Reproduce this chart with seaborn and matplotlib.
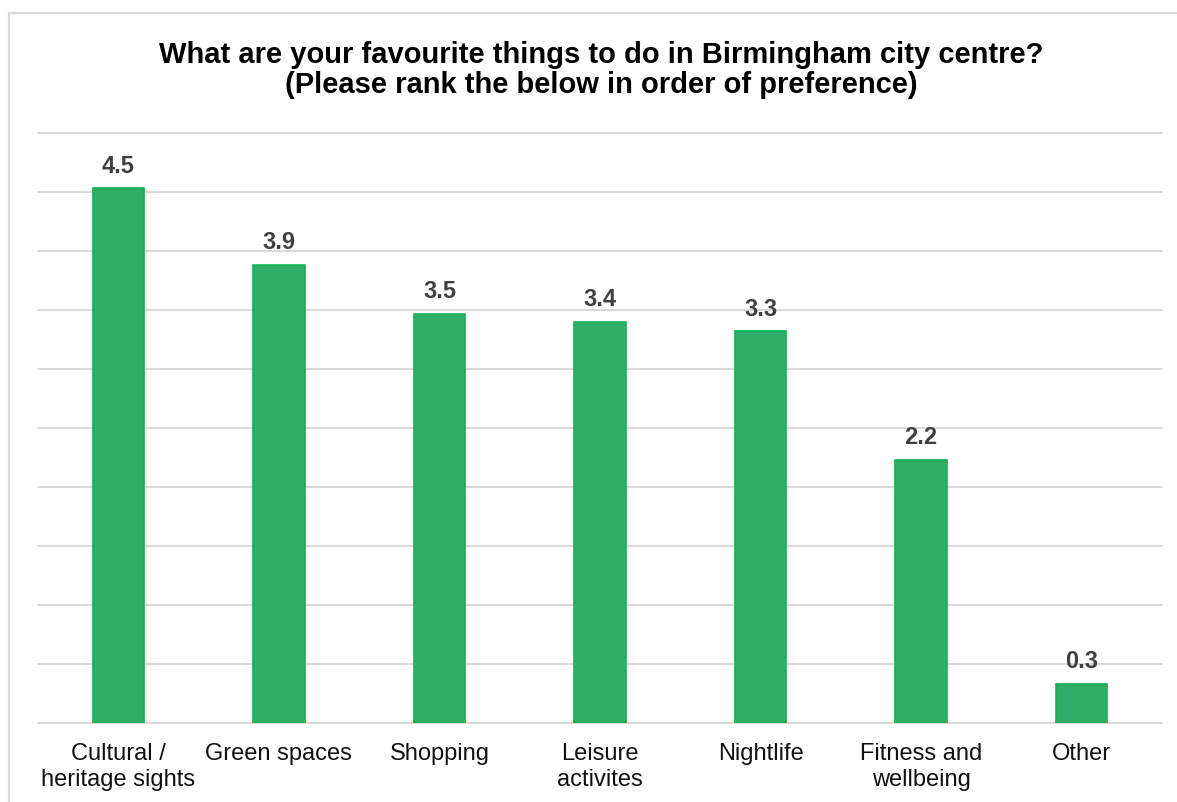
import matplotlib
matplotlib.use("Agg")
import matplotlib.pyplot as plt
import matplotlib.patches as mpatches
import seaborn as sns
import pandas as pd

# Survey results: mean preference score per activity
categories = [
    "Cultural /\nheritage sights",
    "Green spaces",
    "Shopping",
    "Leisure\nactivites",
    "Nightlife",
    "Fitness and\nwellbeing",
    "Other",
]
scores = [4.53, 3.88, 3.47, 3.40, 3.32, 2.23, 0.33]
y_ticks = [0.0, 0.5, 1.0, 1.5, 2.0, 2.5, 3.0, 3.5, 4.0, 4.5, 5.0]

title = ("What are your favourite things to do in Birmingham city centre?\n"
         "(Please rank the below in order of preference)")

sns.set_theme(style="white")
plt.rcParams["font.family"] = ["Liberation Sans", "DejaVu Sans"]

W, H = 1177, 803
fig = plt.figure(figsize=(W / 100, H / 100), dpi=100)
fig.patch.set_facecolor("white")

ax = fig.add_axes([38 / W, (H - 724) / H, (1162 - 38) / W, (724 - 134) / H])

df = pd.DataFrame({"activity": categories, "score": scores})
sns.barplot(data=df, x="activity", y="score", ax=ax, width=0.32,
            color="#2EAE69", saturation=1, edgecolor="#12B356", linewidth=1.2,
            zorder=3)

ax.set_ylim(0, 5.0)
ax.set_xlim(-0.5, len(categories) - 0.5)
ax.set_yticks(y_ticks)
ax.set_yticklabels([])
ax.tick_params(axis="y", length=0)
ax.tick_params(axis="x", length=0, pad=14, labelsize=17, labelcolor="#111111")
for lbl in ax.get_xticklabels():
    lbl.set_linespacing(1.2)
ax.set_xlabel("")
ax.set_ylabel("")
ax.yaxis.grid(True, color="#D9D9D9", linewidth=1.5, zorder=0)
ax.xaxis.grid(False)
for sp in ax.spines.values():
    sp.set_visible(False)
for gl in ax.yaxis.get_gridlines():
    gl.set_clip_on(False)

# value labels above each bar
for i, v in enumerate(scores):
    ax.annotate(f"{v:.1f}", xy=(i, v), xytext=(0, 12), textcoords="offset points",
                ha="center", va="baseline", fontsize=17, fontweight="bold",
                color="#404040")

fig.text(601 / W, 1 - 93 / H, title, ha="center", va="baseline",
         fontsize=21, fontweight="bold", color="#000000", linespacing=1.08)

# light frame around the chart
frame = mpatches.Rectangle((9 / W, -0.1), 1.2, (H - 14) / H + 0.1,
                           transform=fig.transFigure, fill=False,
                           edgecolor="#D9D9D9", linewidth=1.6)
fig.patches.append(frame)

fig.savefig("out.png", dpi=100, facecolor="white")
